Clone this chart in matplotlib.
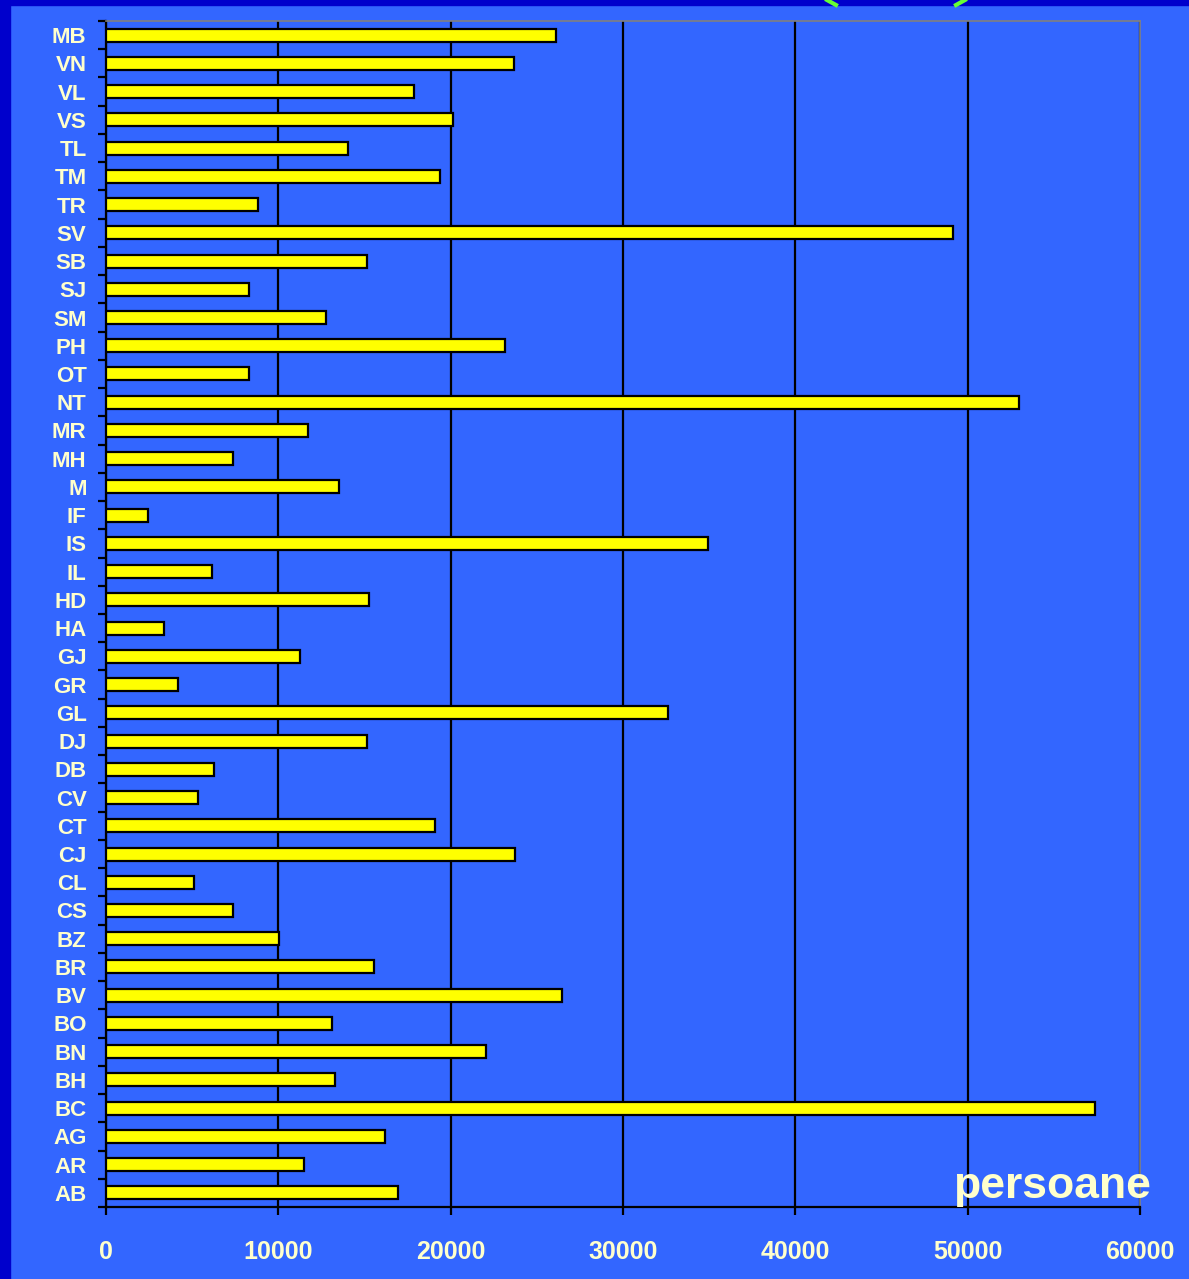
import matplotlib.pyplot as plt
from matplotlib.lines import Line2D
from matplotlib.patches import Rectangle
import numpy as np

# judete (de jos in sus, ca in grafic)
JUDETE = ["AB", "AR", "AG", "BC", "BH", "BN", "BO", "BV", "BR", "BZ",
          "CS", "CL", "CJ", "CT", "CV", "DB", "DJ", "GL", "GR", "GJ",
          "HA", "HD", "IL", "IS", "IF", "M", "MH", "MR", "NT", "OT",
          "PH", "SM", "SJ", "SB", "SV", "TR", "TM", "TL", "VS", "VL",
          "VN", "MB"]
PERSOANE = [16940, 11490, 16190, 57390, 13290, 22050, 13110, 26460, 15550, 10040,
            7370, 5110, 23730, 19090, 5340, 6270, 15150, 32610, 4180, 11260,
            3370, 15260, 6150, 34930, 2440, 13520, 7370, 11720, 52980, 8300,
            23150, 12770, 8300, 15150, 49150, 8820, 19380, 14040, 20140, 17870,
            23680, 26110]
X_TICKS = [0, 10000, 20000, 30000, 40000, 50000, 60000]

BG = "#3366FF"
DARK = "#0000CC"
TXT = "#FFFFCC"
FONT = ["Liberation Sans", "DejaVu Sans"]

fig = plt.figure(figsize=(11.89, 12.79), dpi=100, facecolor=BG)
# banda inchisa sus si in stanga
fig.add_artist(Rectangle((0, 0), 10 / 1189, 1, transform=fig.transFigure,
                         color=DARK, zorder=0))
fig.add_artist(Rectangle((0, 1 - 5 / 1279), 1, 5 / 1279, transform=fig.transFigure,
                         color=DARK, zorder=0))
# restul parantezelor verzi din titlul taiat
for x0, x1 in [(827, 836), (965, 956)]:
    fig.add_artist(Line2D([x0 / 1189, x1 / 1189], [1.0, 1 - 5 / 1279],
                          transform=fig.transFigure, color="#66FF33", lw=3))

ax = fig.add_axes([106 / 1189, 1 - 1207 / 1279, 1034 / 1189, 1186 / 1279])
ax.set_facecolor(BG)

y = np.arange(len(JUDETE))
ax.barh(y, PERSOANE, height=0.46, color="#FFFF00", edgecolor="black",
        linewidth=1.6, zorder=3)

ax.set_xlim(0, 60000)
ax.set_ylim(-0.5, len(JUDETE) - 0.5)
ax.set_xticks(X_TICKS)
ax.set_xticklabels([str(v) for v in X_TICKS])
ax.grid(axis="x", color="black", linewidth=1.6, zorder=1)

ax.set_yticks(np.arange(len(JUDETE) + 1) - 0.5)
ax.set_yticklabels([])
ax.set_yticks(y, minor=True)
ax.set_yticklabels(JUDETE, minor=True)
ax.tick_params(axis="y", which="major", length=6, width=1.6, color="black")
ax.tick_params(axis="y", which="minor", length=0, pad=14)
ax.tick_params(axis="x", length=6, width=1.6, color="black", pad=18)

for lab in ax.get_yticklabels(minor=True):
    lab.set_family(FONT)
    lab.set_fontweight("bold")
    lab.set_fontsize(16)
    lab.set_color(TXT)
for lab in ax.get_xticklabels():
    lab.set_family(FONT)
    lab.set_fontweight("bold")
    lab.set_fontsize(18)
    lab.set_color(TXT)

for s in ["left", "bottom"]:
    ax.spines[s].set_color("black")
    ax.spines[s].set_linewidth(1.6)
for s in ["top", "right"]:
    ax.spines[s].set_color("#808080")
    ax.spines[s].set_linewidth(1.2)

fig.text(953 / 1189, 1 - 1198 / 1279, "persoane", family=FONT,
         fontweight="bold", fontsize=32, color=TXT, ha="left", va="baseline")

plt.savefig("out.png", dpi=100, facecolor=BG)
